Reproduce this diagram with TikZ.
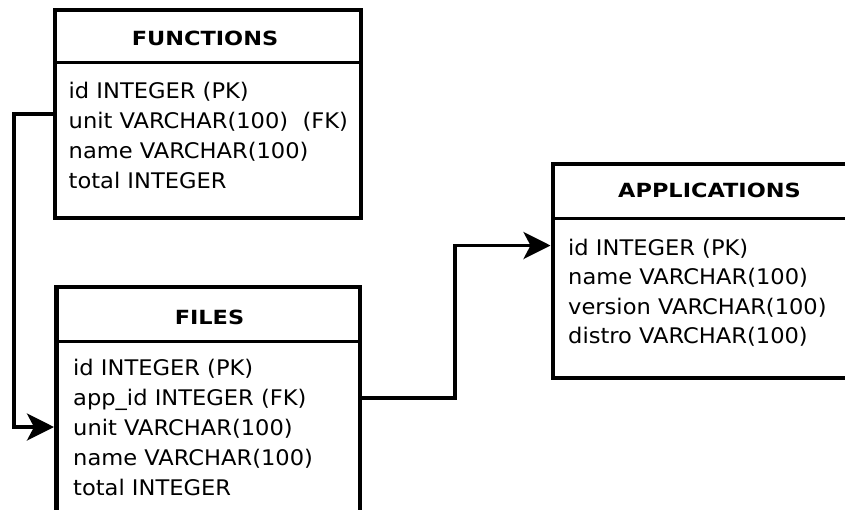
\documentclass[tikz,border=0pt]{standalone}
\usepackage{fontspec}
\setmainfont{DejaVu Sans}[FakeStretch=1.05]
\newfontfamily\titlefont{DejaVu Sans Bold}[FakeStretch=1.15]
\usetikzlibrary{arrows.meta,calc}
\begin{document}
\begin{tikzpicture}[x=1pt,y=-1pt,
  tbl/.style={draw, line width=4.5pt, rectangle, inner sep=0pt, outer sep=0pt, anchor=north west},
  divider/.style={line width=3pt},
  ttl/.style={font=\titlefont\fontsize{19.5}{23}\selectfont, inner sep=0pt},
  fld/.style={font=\fontsize{21.5}{30}\selectfont, inner sep=0pt, anchor=base west},
  conn/.style={line width=3.5pt, shorten >=2.5pt, -{Stealth[length=27pt,width=27pt,inset=7pt]}}]
\clip (0,0) rectangle (845,509);
% FUNCTIONS
\node[tbl, minimum width=306pt, minimum height=208pt] (functions) at (55,10) {};
\draw[divider] ($(functions.north west)+(0,52)$) -- ($(functions.north east)+(0,52)$);
\node[ttl] (functionsT) at (205,38) {FUNCTIONS};
\node[fld] (fun1) at (68.5,98) {id INTEGER (PK)};
\node[fld] (fun2) at (68.5,128) {unit VARCHAR(100)\ \ (FK)};
\node[fld] (fun3) at (68.5,158) {name VARCHAR(100)};
\node[fld] (fun4) at (68.5,188) {total INTEGER};
% FILES
\node[tbl, minimum width=303.5pt, minimum height=250pt] (files) at (56.5,287) {};
\draw[divider] ($(files.north west)+(0,54)$) -- ($(files.north east)+(0,54)$);
\node[ttl] (filesT) at (209.5,317.5) {FILES};
\node[fld] (fil1) at (73,375) {id INTEGER (PK)};
\node[fld] (fil2) at (73,405) {app\_id INTEGER (FK)};
\node[fld] (fil3) at (73,435) {unit VARCHAR(100)};
\node[fld] (fil4) at (73,465) {name VARCHAR(100)};
\node[fld] (fil5) at (73,495) {total INTEGER};
% APPLICATIONS
\node[tbl, minimum width=313pt, minimum height=214pt] (apps) at (553,164) {};
\draw[divider] ($(apps.north west)+(0,54)$) -- ($(apps.north east)+(0,54)$);
\node[ttl] (appsT) at (709.5,190) {APPLICATIONS};
\node[fld] (app1) at (568,255) {id INTEGER (PK)};
\node[fld] (app2) at (568,284.5) {name VARCHAR(100)};
\node[fld] (app3) at (568,314) {version VARCHAR(100)};
\node[fld] (app4) at (568,343) {distro VARCHAR(100)};
% connectors
\coordinate (b1) at (14,114);
\coordinate (b2) at (14,427);
\coordinate (b3) at (455,398);
\coordinate (b4) at (455,245.5);
\draw[conn] (functions.west |- b1) -- (b1) -- (b2) -- (files.west |- b2);
\draw[conn] (files.east |- b3) -- (b3) -- (b4) -- (apps.west |- b4);
\end{tikzpicture}
\end{document}
